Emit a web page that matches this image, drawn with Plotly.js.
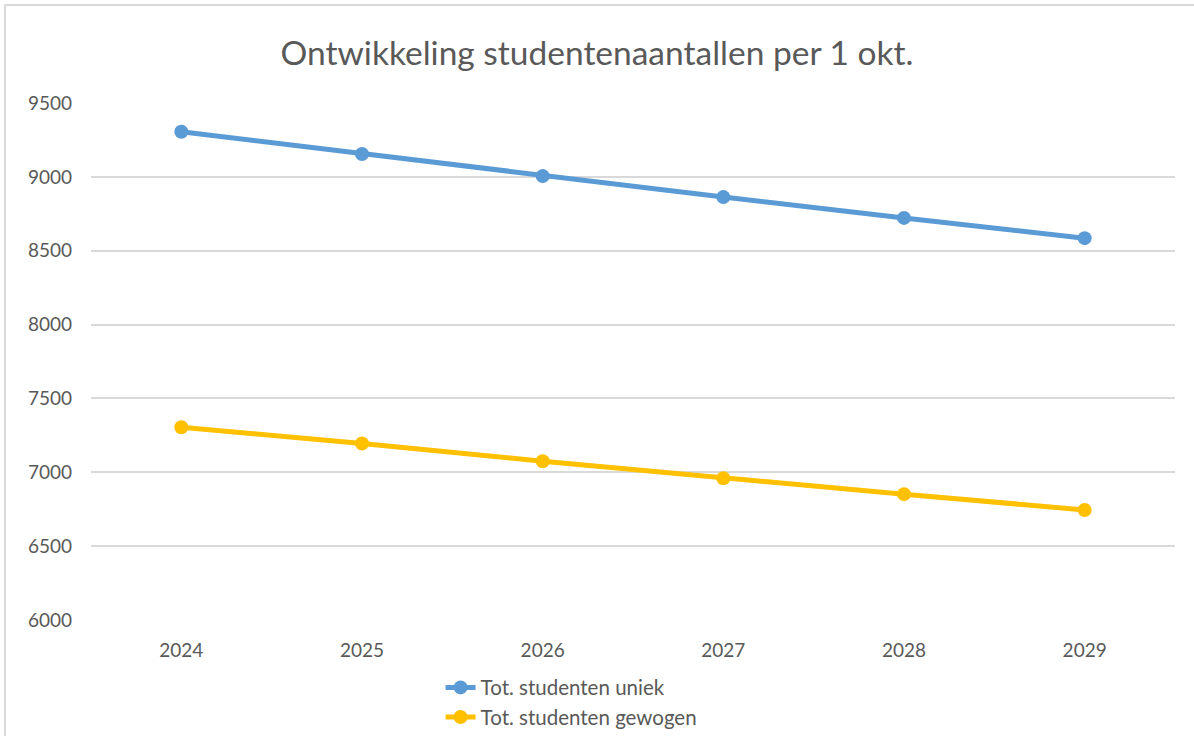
<!DOCTYPE html>
<html>
<head>
<meta charset="utf-8">
<script src="https://cdn.plot.ly/plotly-3.0.1.min.js"></script>
<style>
html,body{margin:0;padding:0;background:#fff;}
#chart{width:1194px;height:736px;}
</style>
</head>
<body>
<div id="chart"></div>
<script>
const years = ['2024','2025','2026','2027','2028','2029'];
const uniek = [9305, 9155, 9005, 8863, 8722, 8585];
const gewogen = [7305, 7195, 7075, 6960, 6852, 6745];
const seriesNames = ['Tot. studenten uniek', 'Tot. studenten gewogen'];
const yTicks = [6000, 6500, 7000, 7500, 8000, 8500, 9000, 9500];

const font = "Lato, 'Open Sans', 'Liberation Sans', sans-serif";
const gray = '#595959';

const traces = [
  {x: years, y: uniek, name: seriesNames[0], type: 'scatter', mode: 'lines+markers',
   line: {color: '#5B9BD5', width: 5}, marker: {color: '#5B9BD5', size: 14}},
  {x: years, y: gewogen, name: seriesNames[1], type: 'scatter', mode: 'lines+markers',
   line: {color: '#FFC000', width: 5}, marker: {color: '#FFC000', size: 14}}
];

const layout = {
  width: 1194, height: 736,
  paper_bgcolor: '#fff', plot_bgcolor: '#fff',
  margin: {l: 91, r: 19, t: 103, b: 116, autoexpand: false},
  font: {family: font, color: gray, size: 19},
  title: {text: 'Ontwikkeling studentenaantallen per 1 okt.', font: {family: font, size: 33.5, color: gray},
          x: 0.5, xanchor: 'center', y: 0.928, yanchor: 'middle'},
  xaxis: {type: 'category', range: [-0.5, 5.5], showgrid: false, zeroline: false, showline: false,
          ticks: '', tickfont: {size: 19, color: gray}, ticklabelstandoff: 17, automargin: false},
  yaxis: {range: [6000, 9500], tickvals: yTicks, ticktext: yTicks.map(String), showgrid: true,
          gridcolor: '#D9D9D9', gridwidth: 2, zeroline: false, showline: false, ticks: '',
          tickfont: {size: 19, color: gray}, ticklabelstandoff: 18, automargin: false},
  showlegend: true,
  legend: {orientation: 'v', xref: 'container', yref: 'container', x: 0.369, xanchor: 'left',
           y: 0.093, yanchor: 'top',
           font: {size: 20.5, color: gray}, bgcolor: 'rgba(0,0,0,0)', tracegroupgap: 0},
  shapes: [
    {type: 'rect', xref: 'paper', yref: 'paper', x0: -0.0793, x1: 1.03, y0: -0.3, y1: 1.1896,
     line: {color: '#D9D9D9', width: 2}, fillcolor: 'rgba(0,0,0,0)', layer: 'below'}
  ]
};

Plotly.newPlot('chart', traces, layout, {displayModeBar: false, staticPlot: true});
</script>
</body>
</html>
